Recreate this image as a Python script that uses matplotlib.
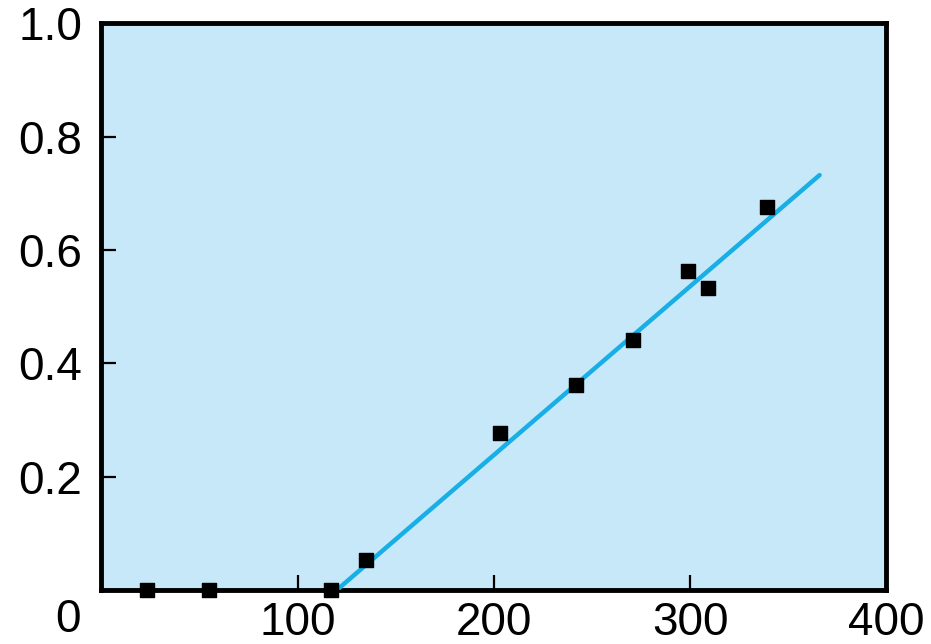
import matplotlib.pyplot as plt

point_x = [23, 55, 117, 135, 203, 242, 271, 299, 309, 339]
point_y = [0.0, 0.0, 0.0, 0.053, 0.277, 0.362, 0.441, 0.563, 0.533, 0.675]
line_x = [120, 366]
line_y = [0.0, 0.732]

x_ticks = [100, 200, 300, 400]
x_labels = ["100", "200", "300", "400"]
y_ticks = [0.2, 0.4, 0.6, 0.8, 1.0]
y_labels = ["0.2", "0.4", "0.6", "0.8", "1.0"]

plt.rcParams["font.family"] = ["Liberation Sans", "DejaVu Sans"]

fig = plt.figure(figsize=(9.31, 6.44), dpi=100)
ax = fig.add_axes([0.109, 0.084, 0.843, 0.880])
ax.set_facecolor("#c6e8f8")

ax.plot(line_x, line_y, color="#18aee6", linewidth=3.2, solid_capstyle="round", zorder=3)
ax.scatter(point_x, point_y, marker="s", s=110, color="black", zorder=5, clip_on=False)

ax.set_xlim(0, 400)
ax.set_ylim(0, 1.0)
ax.set_xticks(x_ticks, x_labels)
ax.set_yticks(y_ticks, y_labels)
ax.tick_params(direction="in", length=11, width=1.6, colors="black", labelsize=33)
ax.tick_params(axis="x", pad=8)
ax.tick_params(axis="y", pad=14)
# the 400 and 1.0 ticks sit on the frame, hide their marks
ax.xaxis.get_major_ticks()[-1].tick1line.set_visible(False)
ax.yaxis.get_major_ticks()[-1].tick1line.set_visible(False)

for spine in ax.spines.values():
    spine.set_linewidth(3.5)
    spine.set_color("black")

# shared origin label sits under the y labels
fig.text(0.073, 0.037, "0", ha="center", va="center", fontsize=33)

fig.savefig("out.png", dpi=100)
